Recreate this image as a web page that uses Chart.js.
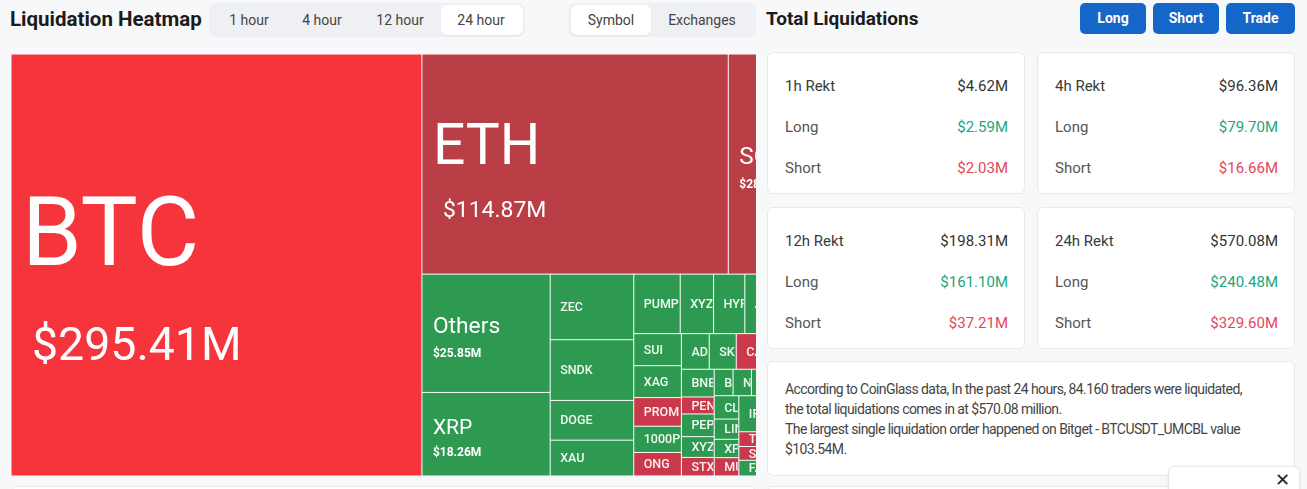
<!DOCTYPE html>
<html>
<head>
<meta charset="utf-8">
<script src="https://cdn.jsdelivr.net/npm/chart.js@4.4.1/dist/chart.umd.min.js"></script>
<style>
  body { margin: 0; width: 1307px; height: 489px; overflow: hidden; position: relative;
         background: #f7f8fa; font-family: Roboto, "Noto Sans", sans-serif; color: #333; }
  .abs { position: absolute; }
  .title { font-weight: 700; font-size: 20px; color: #1b1b1b; line-height: 26px; white-space: nowrap; }
  .tabs { background: #eef0f3; border-radius: 7px; height: 34px; top: 3px; }
  .tab { position: absolute; top: 0; height: 34px; line-height: 34px; font-size: 14px; color: #444; transform: translateX(-50%); white-space: nowrap; }
  .sel { position: absolute; top: 2px; height: 30px; background: #fff; border-radius: 6px; box-shadow: 0 1px 2px rgba(0,0,0,0.06); }
  .btn { top: 3px; height: 31px; line-height: 31px; background: #1466c8; color: #fff; font-weight: 700; font-size: 14px; text-align: center; border-radius: 5px; }
  .card { background: #fff; border: 1px solid #e7e9ec; border-radius: 6px; box-sizing: border-box; }
  .row { position: absolute; left: 17px; right: 16px; height: 20px; line-height: 20px; font-size: 15px; }
  .row span.v { position: absolute; right: 0; }
  .txt { font-size: 14px; line-height: 20px; color: #444; white-space: nowrap; letter-spacing: -0.58px; }
  #mapBox { left: 11px; top: 54px; width: 745px; height: 422px; overflow: hidden; background: #fff; }
  #mapInner { position: relative; width: 793px; height: 422px; }
</style>
</head>
<body>

<div class="abs title" style="left:10px;top:6px;font-size:20.5px;">Liquidation Heatmap</div>

<div class="abs tabs" style="left:209px;width:316px;">
  <div class="sel" style="left:232px;width:82px;"></div>
  <div class="tab" style="left:40px;">1 hour</div>
  <div class="tab" style="left:113px;">4 hour</div>
  <div class="tab" style="left:191px;">12 hour</div>
  <div class="tab" style="left:272px;">24 hour</div>
</div>

<div class="abs tabs" style="left:568px;width:188px;">
  <div class="sel" style="left:3px;width:80px;"></div>
  <div class="tab" style="left:43px;">Symbol</div>
  <div class="tab" style="left:134px;">Exchanges</div>
</div>

<div class="abs title" style="left:766px;top:6px;font-size:19px;">Total Liquidations</div>

<div class="abs btn" style="left:1080px;width:66px;">Long</div>
<div class="abs btn" style="left:1153px;width:66px;">Short</div>
<div class="abs btn" style="left:1226px;width:69px;">Trade</div>

<div id="cards"></div>

<div class="abs card" style="left:767px;top:361px;width:528px;height:115px;">
  <div class="abs txt" style="left:17px;top:17px;">
    According to CoinGlass data, In the past 24 hours, 84.160 traders were liquidated,<br>
    the total liquidations comes in at $570.08 million.<br>
    The largest single liquidation order happened on Bitget - BTCUSDT_UMCBL value<br>
    $103.54M.
  </div>
</div>

<div class="abs card" style="left:11px;top:486px;width:745px;height:20px;"></div>
<div class="abs card" style="left:767px;top:486px;width:528px;height:20px;"></div>
<div class="abs card" style="left:1168px;top:466px;width:132px;height:30px;box-shadow:0 0 3px rgba(0,0,0,0.08);">
  <div class="abs" style="left:106px;top:2px;font-size:18px;color:#222;">&#x2715;</div>
</div>

<div id="mapBox" class="abs"><div id="mapInner"><canvas id="map"></canvas></div></div>

<script>
// treemap data (24 hour), values in $M, in drawing order
const symbols = ['BTC', 'ETH', 'SOL', 'Others', 'XRP', 'ZEC', 'SNDK', 'DOGE', 'XAU', 'PUMP',
  'XYZ:XYZ100', 'HYPE', 'ASTER', 'LTC', 'SUI', 'XAG', 'PROM', '1000PEPE', 'ONG',
  'ADA', 'SKY', 'CAKE', 'ENA', 'TRUMP', 'BNB', 'PENGU', 'PEPE', 'XYZ:NVDA', 'STX',
  'BCH', 'NEAR', 'AVAX', 'ETC', 'DOT', 'CL', 'LINK', 'XPL', 'MU',
  'IP', 'AAVE', 'UNI', 'WLD', 'TAO', 'SEI', 'FARTCOIN', 'WIF', 'ARB', 'OP', 'APT'];
const liqValues = [295.41, 114.87, 28.40, 25.85, 18.26, 9.34, 8.64, 5.66, 5.10, 4.71,
  3.38, 3.17, 3.05, 2.95, 2.60, 2.59, 2.32, 2.13, 1.91,
  1.69, 1.64, 1.60, 1.32, 1.19, 1.55, 0.95, 1.27, 1.16, 1.04,
  0.85, 0.83, 0.81, 0.79, 0.77, 0.98, 0.85, 0.77, 0.77,
  1.40, 0.90, 0.85, 0.85, 0.75, 0.70, 0.80, 0.75, 0.70, 0.66, 0.55];
// share of each symbol's liquidations that were shorts
const shortShare = [0.76, 0.62, 0.60, 0.14, 0.12, 0.10, 0.08, 0.15, 0.12, 0.20,
  0.18, 0.22, 0.25, 0.30, 0.21, 0.16, 0.54, 0.28, 0.56,
  0.24, 0.31, 0.55, 0.27, 0.33, 0.19, 0.53, 0.26, 0.22, 0.57,
  0.29, 0.35, 0.30, 0.28, 0.33, 0.20, 0.26, 0.33, 0.52,
  0.34, 0.30, 0.25, 0.27, 0.55, 0.56, 0.40, 0.45, 0.30, 0.35, 0.40];

// summary cards
const periods = ['1h', '4h', '12h', '24h'];
const totalRekt = [4.62, 96.36, 198.31, 570.08];
const longRekt = [2.59, 79.70, 161.10, 240.48];
const shortRekt = [2.03, 16.66, 37.21, 329.60];

const fmt = (v) => '$' + v.toFixed(2) + 'M';

const cardsEl = document.getElementById('cards');
periods.forEach((p, i) => {
  const left = i % 2 === 0 ? 767 : 1037;
  const top = i < 2 ? 52 : 207;
  const c = document.createElement('div');
  c.className = 'abs card';
  c.style.cssText = `left:${left}px;top:${top}px;width:258px;height:142px;`;
  c.innerHTML =
    `<div class="row" style="top:23px;color:#3a3a3a;">${p} Rekt<span class="v" style="color:#333;">${fmt(totalRekt[i])}</span></div>` +
    `<div class="row" style="top:64px;color:#555;">Long<span class="v" style="color:#22a57e;">${fmt(longRekt[i])}</span></div>` +
    `<div class="row" style="top:105px;color:#555;">Short<span class="v" style="color:#e4475b;">${fmt(shortRekt[i])}</span></div>`;
  cardsEl.appendChild(c);
});

function cellColor(share) {
  if (share >= 0.75) return '#f6343b';
  if (share >= 0.58) return '#b93e45';
  if (share >= 0.5) return '#c9394b';
  return '#2e9a51';
}

// squarified layout, golden ratio (same idea as d3.treemapSquarify)
const PHI = (1 + Math.sqrt(5)) / 2;
function squarify(vals, x0, y0, x1, y1) {
  const out = [];
  const n = vals.length;
  let value = vals.reduce((a, b) => a + b, 0);
  let i0 = 0, i1 = 0;
  while (i0 < n) {
    const dx = x1 - x0, dy = y1 - y0;
    let sum = vals[i1++];
    let minV = sum, maxV = sum;
    const alpha = Math.max(dy / dx, dx / dy) / (value * PHI);
    let beta = sum * sum * alpha;
    let minRatio = Math.max(maxV / beta, beta / minV);
    for (; i1 < n; ++i1) {
      const v = vals[i1];
      sum += v;
      if (v < minV) minV = v;
      if (v > maxV) maxV = v;
      beta = sum * sum * alpha;
      const r = Math.max(maxV / beta, beta / minV);
      if (r > minRatio) { sum -= v; break; }
      minRatio = r;
    }
    if (dx < dy) {
      const yb = y0 + dy * sum / value;
      let xx = x0;
      for (let k = i0; k < i1; k++) {
        const w = dx * vals[k] / sum;
        out[k] = {x0: xx, x1: xx + w, y0: y0, y1: yb};
        xx += w;
      }
      y0 = yb;
    } else {
      const xb = x0 + dx * sum / value;
      let yy = y0;
      for (let k = i0; k < i1; k++) {
        const h = dy * vals[k] / sum;
        out[k] = {x0: x0, x1: xb, y0: yy, y1: yy + h};
        yy += h;
      }
      x0 = xb;
    }
    value -= sum;
    i0 = i1;
  }
  return out;
}

const treemapPlugin = {
  id: 'treemapCells',
  afterDatasetsDraw(chart) {
    const {ctx, chartArea, scales: {x, y}} = chart;
    const aspect = (chartArea.right - chartArea.left) / (chartArea.bottom - chartArea.top);
    const rects = squarify(liqValues, 0, 0, aspect, 1);
    ctx.save();
    ctx.fillStyle = '#fff';
    ctx.fillRect(chartArea.left, chartArea.top, chartArea.right - chartArea.left, chartArea.bottom - chartArea.top);
    rects.forEach((r, i) => {
      const left = x.getPixelForValue(r.x0 / aspect);
      const right = x.getPixelForValue(r.x1 / aspect);
      const top = y.getPixelForValue(r.y0);
      const bottom = y.getPixelForValue(r.y1);
      const w = right - left, h = bottom - top;
      const s = Math.sqrt(w * h);
      ctx.save();
      ctx.fillStyle = cellColor(shortShare[i]);
      ctx.fillRect(left + 0.5, top + 0.5, w - 1, h - 1);
      ctx.beginPath();
      ctx.rect(left, top, w - 1, h);
      ctx.clip();
      ctx.fillStyle = '#fff';
      const cy = top + h / 2;
      if (s >= 90) {
        const nameSize = Math.max(21, 0.25 * s - 8);
        const valueSize = Math.max(12, 0.15 * s - 16);
        ctx.textBaseline = 'alphabetic';
        ctx.font = `400 ${nameSize}px Roboto`;
        ctx.fillText(symbols[i], left + 11, cy);
        ctx.font = `${valueSize < 16 ? 700 : 400} ${valueSize}px Roboto`;
        ctx.fillText(fmt(liqValues[i]), left + (valueSize > 16 ? 21 : 11),
          cy + 0.64 * nameSize + 0.72 * valueSize);
      } else {
        ctx.textBaseline = 'middle';
        ctx.font = '500 12.5px Roboto';
        ctx.fillStyle = 'rgba(255,255,255,0.93)';
        ctx.fillText(symbols[i], left + 10, cy + 1);
      }
      ctx.restore();
    });
    ctx.restore();
  }
};

new Chart(document.getElementById('map').getContext('2d'), {
  type: 'scatter',
  data: { datasets: [{ data: [] }] },
  options: {
    responsive: true,
    maintainAspectRatio: false,
    animation: false,
    events: [],
    layout: { padding: 0 },
    plugins: { legend: { display: false }, tooltip: { enabled: false } },
    scales: {
      x: { display: false, min: 0, max: 1 },
      y: { display: false, min: 0, max: 1, reverse: true }
    }
  },
  plugins: [treemapPlugin]
});
</script>
</body>
</html>
